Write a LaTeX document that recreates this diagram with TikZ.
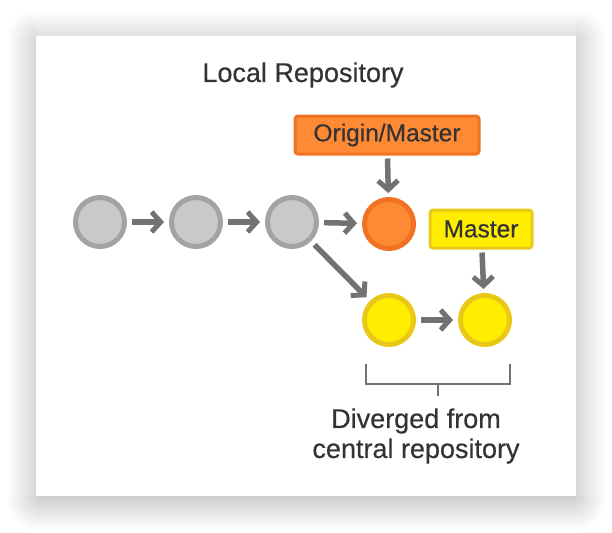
\documentclass[tikz,border=0pt]{standalone}
\usepackage{fontspec}
\setmainfont{Liberation Sans}[FakeBold=0.4]
\usetikzlibrary{arrows.meta}
\definecolor{cgrayf}{HTML}{C9C9C9}
\definecolor{cgrayd}{HTML}{A3A3A3}
\definecolor{corf}{HTML}{FF8A35}
\definecolor{cord}{HTML}{F07222}
\definecolor{cyelf}{HTML}{FFEE00}
\definecolor{cyeld}{HTML}{E9C81A}
\definecolor{carrow}{HTML}{727272}
\definecolor{ctext}{HTML}{333333}
\colorlet{shT}{black!12}
\colorlet{shB}{black!19}
\colorlet{shS}{black!15}
\colorlet{shTS}{black!13.5}
\colorlet{shBS}{black!17}
\pgfdeclareradialshading{shtop}{\pgfpoint{0bp}{0bp}}{color(0bp)=(shTS); color(25bp)=(white); color(50bp)=(white)}
\pgfdeclareradialshading{shbot}{\pgfpoint{0bp}{0bp}}{color(0bp)=(shBS); color(25bp)=(white); color(50bp)=(white)}
\tikzset{
  commit/.style={circle, line width=5pt, minimum size=49pt, inner sep=0pt},
  gcommit/.style={commit, draw=cgrayd, fill=cgrayf},
  ocommit/.style={commit, draw=cord, fill=corf},
  ycommit/.style={commit, draw=cyeld, fill=cyelf},
  arr/.style={draw=carrow, line width=5.5pt, -{Straight Barb[length=9pt,width=20pt,line width=5pt]}, shorten >=5pt, shorten <=5pt},
  label/.style={text=ctext, font=\fontsize{27}{29}\selectfont, inner sep=0pt},
  tag/.style={rounded corners=3pt, line width=3pt, text=ctext, font=\fontsize{24.5}{26}\selectfont, inner xsep=8pt, inner ysep=0pt, minimum height=38pt},
}
\begin{document}
\begin{tikzpicture}[x=1pt,y=-1pt]
\useasboundingbox (0,0) rectangle (612,532);
\fill[white] (0,0) rectangle (612,532);
% soft shadow round the card
\shade[top color=white, bottom color=shT] (36,10) rectangle (576,36);
\shade[top color=shB, bottom color=white] (36,496) rectangle (576,530);
\shade[left color=white, right color=shS] (6,36) rectangle (36,496);
\shade[left color=shS, right color=white] (576,36) rectangle (606,496);
\begin{scope}
  \clip (6,10) rectangle (36,36);
  \shade[shading=shtop] (36,36) ellipse [x radius=30, y radius=26];
\end{scope}
\begin{scope}
  \clip (576,10) rectangle (606,36);
  \shade[shading=shtop] (576,36) ellipse [x radius=30, y radius=26];
\end{scope}
\begin{scope}
  \clip (6,496) rectangle (36,530);
  \shade[shading=shbot] (36,496) ellipse [x radius=30, y radius=34];
\end{scope}
\begin{scope}
  \clip (576,496) rectangle (606,530);
  \shade[shading=shbot] (576,496) ellipse [x radius=30, y radius=34];
\end{scope}
% card
\fill[white] (36,36) rectangle (576,496);
% title
\node[label] (title) at (303,75) {Local Repository};
% commits
\node[gcommit] (g1) at (100,222) {};
\node[gcommit] (g2) at (196,222) {};
\node[gcommit] (g3) at (292,222) {};
\node[ocommit] (o1) at (389,224) {};
\node[ycommit] (y1) at (389,320) {};
\node[ycommit] (y2) at (485,320) {};
% tags
\node[tag, draw=cord, fill=corf, minimum width=184pt] (om) at (387,135) {Origin/Master};
\node[tag, draw=cyeld, fill=cyelf, minimum width=102pt] (ms) at (481,229) {Master};
% arrows
\draw[arr] (g1) -- (g2);
\draw[arr] (g2) -- (g3);
\draw[arr] (g3) -- (o1);
\draw[arr] (g3) -- (y1);
\draw[arr] (y1) -- (y2);
\draw[arr, shorten <=3pt, shorten >=4pt] (om) -- (o1);
\draw[arr, shorten <=3pt, shorten >=4pt] (ms) -- (y2);
% bracket
\coordinate (bl) at (366,364);
\coordinate (br) at (510,364);
\coordinate (bm) at (438,384);
\coordinate (bt) at (438,396);
\draw[carrow, line width=2.5pt] (bl) |- (bm) -| (br);
\draw[carrow, line width=2.5pt] (bm) -- (bt);
\node[label, align=center] (div) at (416,436) {Diverged from\\[1pt]central repository};
\end{tikzpicture}
\end{document}
